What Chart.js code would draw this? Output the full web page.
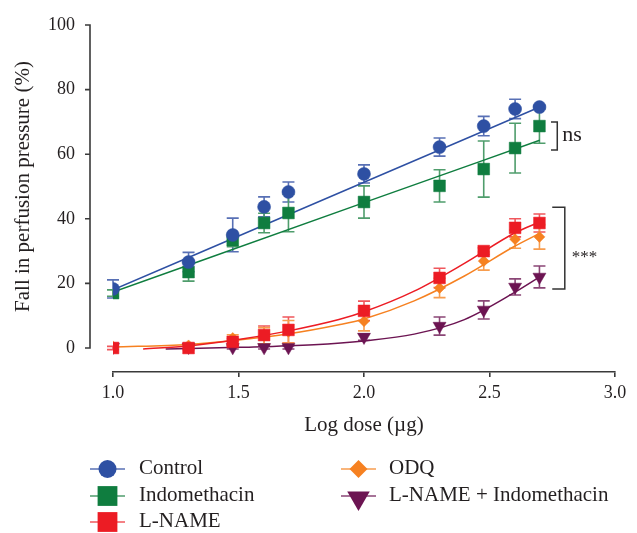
<!DOCTYPE html>
<html><head><meta charset="utf-8">
<script src="https://cdn.jsdelivr.net/npm/chart.js@4.4.1/dist/chart.umd.min.js"></script>
<style>html,body{margin:0;padding:0;background:#fff;} #wrap{width:637px;height:533px;position:relative;}</style>
</head><body><div id="wrap"><canvas id="c" width="637" height="533"></canvas></div>
<script>
// ---- data ----
const logDose = [1.0, 1.301, 1.477, 1.602, 1.699, 2.0, 2.301, 2.477, 2.602, 2.699];
const controlMean = [18.3, 26.6, 35.0, 43.7, 48.3, 53.9, 62.2, 68.7, 74.0, 74.6];
const controlSem  = [2.8, 3.0, 5.2, 3.1, 3.1, 2.8, 2.8, 3.0, 3.0, 0.5];
const indoMean = [17.0, 23.5, 33.4, 38.7, 41.8, 45.2, 50.2, 55.4, 61.9, 68.7];
const indoSem  = [1.0, 2.8, 2.0, 3.0, 5.8, 5.0, 5.0, 8.7, 7.7, 5.3];
const lnameMean = [0.0, 0.0, 1.9, 4.0, 5.6, 11.5, 21.7, 30.0, 37.2, 38.7];
const lnameSem  = [0.5, 0.5, 1.0, 2.8, 4.0, 3.0, 3.0, 1.0, 2.8, 2.8];
const odqMean = [0.5, 0.8, 3.1, 3.8, 5.0, 8.3, 18.6, 26.9, 33.7, 34.4];
const odqSem  = [0, 0, 1.0, 2.5, 3.5, 3.0, 3.0, 2.8, 2.8, 3.8];
const comboMean = [0.3, 0.3, 0.2, 0.2, 0.2, 3.4, 6.8, 11.8, 18.9, 22.0];
const comboSem  = [0, 0, 0.5, 0.5, 0.5, 1.0, 2.8, 2.8, 2.5, 3.4];

// fitted curves
const controlFitX = [1.0, 2.0, 2.7];
const controlFitY = [18.0, 51.3, 74.6];
const indoFitX = [1.0, 2.0, 2.7];
const indoFitY = [17.3, 45.0, 64.3];
const lnameFitX = [1.12, 1.3, 1.5, 1.7, 1.9, 2.0, 2.2, 2.4, 2.6, 2.7];
const lnameFitY = [-0.3, 0.6, 2.6, 5.3, 8.8, 11.2, 17.6, 26.2, 35.6, 39.0];
const odqFitX = [1.0, 1.3, 1.5, 1.7, 1.9, 2.0, 2.2, 2.4, 2.6, 2.7];
const odqFitY = [0.3, 1.1, 2.5, 4.4, 7.2, 9.0, 14.6, 22.3, 31.5, 35.5];
const comboFitX = [1.21, 1.5, 1.8, 2.0, 2.2, 2.4, 2.6, 2.7];
const comboFitY = [-0.3, 0.2, 1.0, 2.2, 4.3, 8.8, 17.2, 22.0];

const xTicks = [1.0, 1.5, 2.0, 2.5, 3.0];
const yTicks = [0, 20, 40, 60, 80, 100];
const seriesNames = ['Control', 'Indomethacin', 'L-NAME', 'ODQ', 'L-NAME + Indomethacin'];
const xTitle = 'Log dose (\u00b5g)';
const yTitle = 'Fall in perfusion pressure (%)';

// ---- styles ----
const FONT = '"Liberation Serif", "Times New Roman", serif';
const TEXT = '#231f20';
const AXIS = '#3a3a3a';
const colors = ['#2e50a3', '#0f7d3f', '#ec1c24', '#f68121', '#6c1452'];
const errColors = ['#5870b5', '#4f9d6c', '#f0575c', '#f79d4f', '#8a4676'];
const styles = [
  {pointStyle: 'circle', radius: 6.5, rotation: 0},
  {pointStyle: 'rect', radius: 8.3, rotation: 0},
  {pointStyle: 'rect', radius: 8.3, rotation: 0},
  {pointStyle: 'rectRot', radius: 5.5, rotation: 0},
  {pointStyle: 'triangle', radius: 7.5, rotation: 180}
];
const means = [controlMean, indoMean, lnameMean, odqMean, comboMean];
const sems = [controlSem, indoSem, lnameSem, odqSem, comboSem];
const fitXs = [controlFitX, indoFitX, lnameFitX, odqFitX, comboFitX];
const fitYs = [controlFitY, indoFitY, lnameFitY, odqFitY, comboFitY];
const pointOrder = [1, 2, 3, 4, 5];

const datasets = [];
for (let s = 0; s < 5; s++) {
  datasets.push({
    label: seriesNames[s],
    data: logDose.map((x, i) => ({x: x, y: means[s][i]})),
    errors: sems[s],
    errColor: errColors[s],
    showLine: false,
    pointStyle: styles[s].pointStyle,
    pointRadius: styles[s].radius,
    pointRotation: styles[s].rotation,
    pointBackgroundColor: colors[s],
    pointBorderColor: colors[s],
    pointBorderWidth: 0.5,
    order: pointOrder[s]
  });
}
for (let s = 0; s < 5; s++) {
  datasets.push({
    label: seriesNames[s] + ' fit',
    data: fitXs[s].map((x, i) => ({x: x, y: fitYs[s][i]})),
    showLine: true,
    pointRadius: 0,
    borderColor: colors[s],
    borderWidth: 1.5,
    cubicInterpolationMode: 'monotone',
    fill: false,
    order: 20 + s
  });
}

// ---- plugins ----
const errorBars = {
  id: 'errorBars',
  beforeDatasetsDraw(chart) {
    const {ctx, scales: {x, y}} = chart;
    ctx.save();
    chart.data.datasets.forEach(ds => {
      if (!ds.errors) return;
      ctx.strokeStyle = ds.errColor;
      ctx.lineWidth = 1.6;
      ds.data.forEach((p, i) => {
        const e = ds.errors[i];
        if (!e) return;
        const px = x.getPixelForValue(p.x);
        const yt = y.getPixelForValue(p.y + e);
        const yb = y.getPixelForValue(p.y - e);
        ctx.beginPath();
        ctx.moveTo(px, yt); ctx.lineTo(px, yb);
        ctx.moveTo(px - 6, yt); ctx.lineTo(px + 6, yt);
        ctx.moveTo(px - 6, yb); ctx.lineTo(px + 6, yb);
        ctx.stroke();
      });
    });
    ctx.restore();
  }
};

const extras = {
  id: 'extras',
  afterDraw(chart) {
    const {ctx, scales: {x, y}} = chart;
    ctx.save();
    // y axis line (detached, 0..100)
    const ax = 90;
    ctx.strokeStyle = AXIS; ctx.lineWidth = 1.6;
    ctx.beginPath();
    ctx.moveTo(ax, y.getPixelForValue(100));
    ctx.lineTo(ax, y.getPixelForValue(0) + 0.8);
    yTicks.forEach(v => {
      const py = y.getPixelForValue(v);
      ctx.moveTo(ax - 5, py); ctx.lineTo(ax + 0.8, py);
    });
    ctx.stroke();

    // y title
    ctx.fillStyle = TEXT;
    ctx.font = '21px ' + FONT;
    ctx.textAlign = 'center'; ctx.textBaseline = 'middle';
    ctx.save();
    ctx.translate(23, (y.getPixelForValue(0) + y.getPixelForValue(100)) / 2);
    ctx.rotate(-Math.PI / 2);
    ctx.fillText(yTitle, 0, 0);
    ctx.restore();

    // significance brackets
    ctx.strokeStyle = '#333'; ctx.lineWidth = 1.5;
    const br = (xv, x0, y1, y2) => {
      const px = x.getPixelForValue(xv), p0 = x.getPixelForValue(x0);
      const py1 = y.getPixelForValue(y1), py2 = y.getPixelForValue(y2);
      ctx.beginPath();
      ctx.moveTo(p0, py1); ctx.lineTo(px, py1); ctx.lineTo(px, py2); ctx.lineTo(p0, py2);
      ctx.stroke();
      return px;
    };
    const nsX = br(2.77, 2.745, 70.0, 61.3);
    const stX = br(2.80, 2.75, 43.6, 18.3);
    ctx.fillStyle = TEXT;
    ctx.textAlign = 'left'; ctx.textBaseline = 'middle';
    ctx.font = '22px ' + FONT;
    ctx.fillText('ns', nsX + 5, y.getPixelForValue(65.8));
    ctx.font = '17px ' + FONT;
    ctx.textBaseline = 'alphabetic';
    ctx.fillText('***', stX + 7, y.getPixelForValue(31.0) + 14);

    // legend
    const leg = [
      {s: 0, lx: 90, rx: 125, tx: 139, cy: 469},
      {s: 1, lx: 90, rx: 125, tx: 139, cy: 496},
      {s: 2, lx: 90, rx: 125, tx: 139, cy: 522},
      {s: 3, lx: 341, rx: 376, tx: 389, cy: 469},
      {s: 4, lx: 341, rx: 376, tx: 389, cy: 496}
    ];
    const legR = [9, 14, 14, 9, 13];
    leg.forEach(it => {
      const s = it.s, cx = (it.lx + it.rx) / 2;
      ctx.strokeStyle = errColors[s]; ctx.lineWidth = 1.6;
      ctx.beginPath(); ctx.moveTo(it.lx, it.cy); ctx.lineTo(it.rx, it.cy); ctx.stroke();
      ctx.fillStyle = colors[s];
      Chart.helpers.drawPoint(ctx, {
        pointStyle: styles[s].pointStyle, radius: legR[s], rotation: styles[s].rotation, borderWidth: 0
      }, cx, it.cy + (s === 4 ? 2 : 0));
      ctx.fillStyle = TEXT;
      ctx.font = '21px ' + FONT;
      ctx.textAlign = 'left'; ctx.textBaseline = 'middle';
      ctx.fillText(seriesNames[s], it.tx, it.cy - 1);
    });
    ctx.restore();
  }
};

new Chart(document.getElementById('c'), {
  type: 'scatter',
  data: {datasets: datasets},
  plugins: [errorBars, extras],
  options: {
    responsive: false,
    devicePixelRatio: 1,
    animation: false,
    layout: {padding: {left: 0, top: 25, right: 22, bottom: 95}},
    plugins: {legend: {display: false}, tooltip: {enabled: false}},
    scales: {
      x: {
        type: 'linear', min: 1.0, max: 3.0,
        afterBuildTicks: sc => { sc.ticks = xTicks.map(v => ({value: v})); },
        afterFit: sc => { sc.height = 66; },
        ticks: {callback: v => Number(v).toFixed(1), color: TEXT, font: {family: FONT, size: 18}, padding: 5, maxRotation: 0},
        grid: {drawOnChartArea: false, drawTicks: true, tickLength: 5, color: AXIS, lineWidth: 1.6},
        border: {display: true, color: AXIS, width: 1.6},
        title: {display: true, text: xTitle, color: TEXT, font: {family: FONT, size: 21}, padding: {top: 0, bottom: 0}}
      },
      y: {
        type: 'linear', min: -7.43, max: 100,
        afterBuildTicks: sc => { sc.ticks = yTicks.map(v => ({value: v})); },
        afterFit: sc => { sc.width = 113; },
        ticks: {callback: v => String(v), color: TEXT, font: {family: FONT, size: 18}, padding: 3},
        grid: {display: true, drawOnChartArea: false, drawTicks: true, tickLength: 35, color: 'rgba(0,0,0,0)'},
        border: {display: false}
      }
    }
  }
});
</script>
</body></html>
